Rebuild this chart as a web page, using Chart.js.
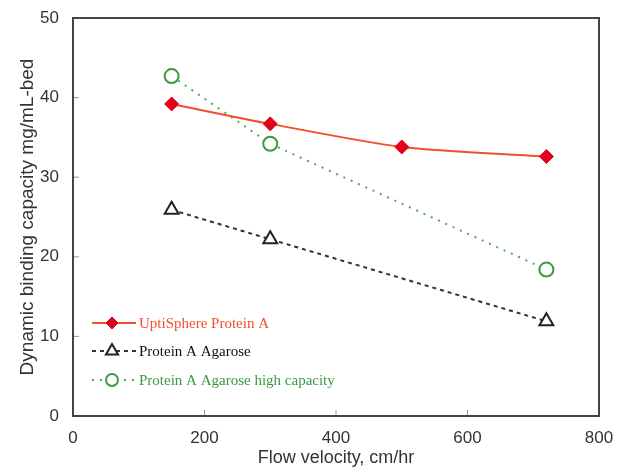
<!DOCTYPE html>
<html>
<head>
<meta charset="utf-8">
<script src="https://cdn.jsdelivr.net/npm/chart.js@4"></script>
<style>
  html, body { margin:0; padding:0; background:#fff; }
  #wrap { width:618px; height:473px; }
</style>
</head>
<body>
<div id="wrap"><canvas id="dbc-chart" width="618" height="473"></canvas></div>
<script>
// values
const uptiX = [150, 300, 500, 720];
const uptiY = [39.2, 36.7, 33.8, 32.6];
const agaroseX = [150, 300, 720];
const agaroseY = [25.9, 22.2, 11.9];
const highCapX = [150, 300, 720];
const highCapY = [42.7, 34.2, 18.4];
const xTicks = [0, 200, 400, 600, 800];
const yTicks = [0, 10, 20, 30, 40, 50];

const pts = (xs, ys) => xs.map((x, i) => ({ x, y: ys[i] }));

// short tick marks pointing inward + legend inside plot
const innerBits = {
  id: 'innerBits',
  afterDraw(chart) {
    const { ctx, chartArea: a, scales } = chart;
    ctx.save();
    ctx.strokeStyle = '#999';
    ctx.lineWidth = 1;
    yTicks.forEach(v => {
      const y = scales.y.getPixelForValue(v);
      ctx.beginPath(); ctx.moveTo(a.left, y); ctx.lineTo(a.left + 6, y); ctx.stroke();
    });
    xTicks.forEach(v => {
      const x = scales.x.getPixelForValue(v);
      ctx.beginPath(); ctx.moveTo(x, a.bottom); ctx.lineTo(x, a.bottom - 6); ctx.stroke();
    });
    ctx.strokeStyle = '#444';
    ctx.lineWidth = 2;
    ctx.strokeRect(a.left, a.top, a.right - a.left, a.bottom - a.top);

    // legend
    const rows = [323, 351, 380];
    ctx.font = '15px "Liberation Serif", serif';
    ctx.textBaseline = 'middle';
    chart.data.datasets.forEach((ds, i) => {
      const y = rows[i];
      ctx.strokeStyle = ds.borderColor;
      ctx.lineWidth = ds.borderWidth;
      ctx.setLineDash(ds.borderDash || []);
      ctx.beginPath(); ctx.moveTo(92, y); ctx.lineTo(136, y); ctx.stroke();
      ctx.setLineDash([]);
      ctx.fillStyle = ds.pointBackgroundColor;
      ctx.strokeStyle = ds.pointBorderColor;
      ctx.lineWidth = ds.pointBorderWidth;
      Chart.helpers.drawPoint(ctx, {
        pointStyle: ds.pointStyle, radius: ds.pointRadius - 1, rotation: 0,
        borderWidth: ds.pointBorderWidth
      }, 112, y);
      ctx.fillStyle = ds.legendColor;
      ctx.fillText(ds.label, 139, y + 1);
    });
    ctx.restore();
  }
};

new Chart(document.getElementById('dbc-chart'), {
  type: 'scatter',
  data: {
    datasets: [
      {
        label: 'UptiSphere Protein A',
        data: pts(uptiX, uptiY),
        showLine: true,
        tension: 0.25,
        borderColor: '#f0502c',
        borderWidth: 2,
        pointStyle: 'rectRot',
        pointRadius: 7,
        pointBackgroundColor: '#e2001a',
        pointBorderColor: '#e2001a',
        pointBorderWidth: 1,
        legendColor: '#f0502c',
      },
      {
        label: 'Protein A Agarose',
        data: pts(agaroseX, agaroseY),
        showLine: true,
        borderColor: '#333',
        borderWidth: 2,
        borderDash: [4, 4],
        pointStyle: 'triangle',
        pointRadius: 8,
        pointBackgroundColor: '#fff',
        pointBorderColor: '#222',
        pointBorderWidth: 2,
        legendColor: '#111',
      },
      {
        label: 'Protein A Agarose high capacity',
        data: pts(highCapX, highCapY),
        showLine: true,
        borderColor: '#5aa55a',
        borderWidth: 2,
        borderDash: [2, 6],
        pointStyle: 'circle',
        pointRadius: 7,
        pointBackgroundColor: '#fff',
        pointBorderColor: '#3c9a40',
        pointBorderWidth: 2,
        legendColor: '#3c9a40',
      },
    ],
  },
  options: {
    responsive: false,
    animation: false,
    layout: { padding: { top: 18, right: 19, left: 12, bottom: 0 } },
    plugins: { legend: { display: false }, tooltip: { enabled: false } },
    scales: {
      x: {
        type: 'linear', min: 0, max: 800,
        afterBuildTicks: s => { s.ticks = xTicks.map(v => ({ value: v })); },
        afterFit: s => { s.height = 57; },
        grid: { display: false },
        border: { display: false },
        ticks: { color: '#333', padding: 4, font: { family: '"Liberation Sans", Arial', size: 17 } },
        title: { display: true, text: 'Flow velocity, cm/hr', color: '#333', padding: { top: 5 },
                 font: { family: '"Liberation Sans", Arial', size: 18 } },
      },
      y: {
        type: 'linear', min: 0, max: 50,
        afterBuildTicks: s => { s.ticks = yTicks.map(v => ({ value: v })); },
        afterFit: s => { s.width = 61; },
        grid: { display: false },
        border: { display: false },
        ticks: { color: '#333', padding: 6, font: { family: '"Liberation Sans", Arial', size: 17 } },
        title: { display: true, text: 'Dynamic binding capacity mg/mL-bed', color: '#333', padding: { bottom: 0 },
                 font: { family: '"Liberation Sans", Arial', size: 19 } },
      },
    },
  },
  plugins: [innerBits],
});
</script>
</body>
</html>
